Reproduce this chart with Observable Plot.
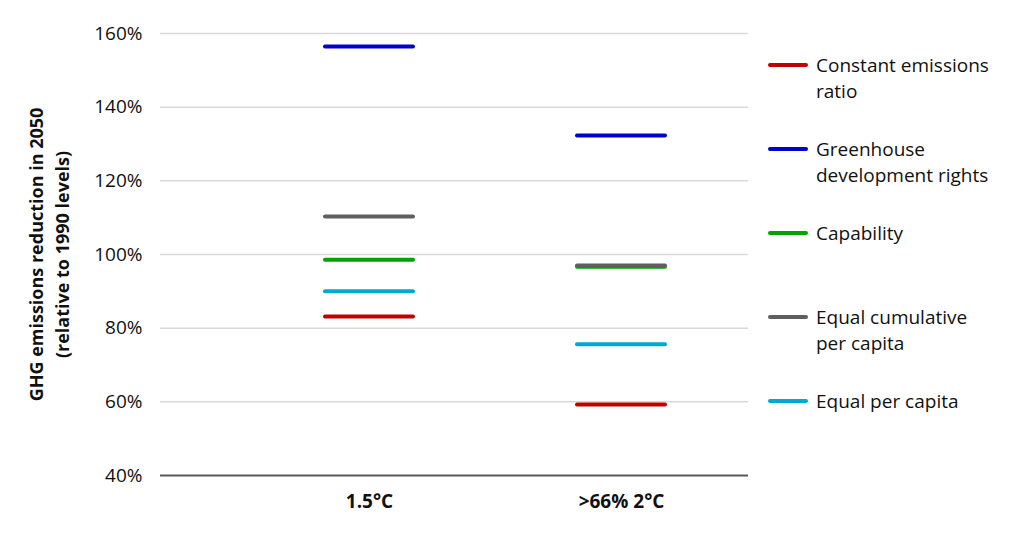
<!DOCTYPE html>
<html>
<head>
<meta charset="utf-8">
<script src="https://cdn.jsdelivr.net/npm/d3@7"></script>
<script src="https://cdn.jsdelivr.net/npm/@observablehq/plot@0.6"></script>
<style>
  html, body { margin: 0; padding: 0; background: #fff; }
  body { width: 1024px; height: 537px; position: relative; overflow: hidden; font-family: "Open Sans", sans-serif; }
  #chart { position: absolute; left: 0; top: 0; }
  #legend { position: absolute; left: 768px; top: 0; }
  .item { position: absolute; left: 0; width: 256px; }
  .swatch { position: absolute; left: 0; width: 40px; height: 4px; border-radius: 2px; }
  .label { position: absolute; left: 48px; font-size: 19px; line-height: 26px; color: #111; white-space: nowrap; }
</style>
</head>
<body>
<div id="chart"></div>
<div id="legend"></div>
<script>
const scenarios = ["1.5°C", ">66% 2°C"];
const approaches = ["Constant emissions ratio", "Greenhouse development rights", "Capability", "Equal cumulative per capita", "Equal per capita"];
const legendLabels = [["Constant emissions", "ratio"], ["Greenhouse", "development rights"], ["Capability"], ["Equal cumulative", "per capita"], ["Equal per capita"]];
const colors = ["#c00000", "#0000cc", "#00a300", "#5f5f5f", "#00a9d4"];
const values15 = [83.2, 156.5, 98.6, 110.3, 90.0];
const values2 = [59.3, 132.3, 96.7, 97.0, 75.6];
const yTicks = [40, 60, 80, 100, 120, 140, 160];

const data = [];
approaches.forEach((a, i) => {
  data.push({scenario: scenarios[0], approach: a, value: values15[i]});
  data.push({scenario: scenarios[1], approach: a, value: values2[i]});
});

const chart = Plot.plot({
  width: 1024,
  height: 537,
  marginLeft: 160,
  marginRight: 276,
  marginTop: 33,
  marginBottom: 62,
  style: {fontFamily: "Open Sans, sans-serif", fontSize: "19px", color: "#111", background: "#fff"},
  x: {domain: scenarios, range: [243, 747], padding: 0},
  y: {domain: [40, 160]},
  color: {domain: approaches, range: colors},
  marks: [
    Plot.ruleY(yTicks.slice(1), {stroke: "#d9d9d9", strokeWidth: 1.5}),
    Plot.ruleY([40], {stroke: "#595959", strokeWidth: 2}),
    Plot.axisY({ticks: yTicks, tickFormat: d => d + "%", tickSize: 0, tickPadding: 18, label: null, fontSize: 19}),
    Plot.axisX({tickSize: 0, tickPadding: 19, label: null, fontWeight: "bold", fontSize: 19}),
    Plot.tickY(data, {x: "scenario", y: "value", stroke: "approach", strokeWidth: 4, strokeLinecap: "round", inset: 82}),
    Plot.text(["GHG emissions reduction in 2050\n(relative to 1990 levels)"], {
      frameAnchor: "left", textAnchor: "middle", rotate: -90, dx: -113, text: d => d, fontWeight: "bold", fontSize: 18, lineHeight: 1.45, lineAnchor: "middle", fill: "#111"
    })
  ]
});
document.getElementById("chart").appendChild(chart);

const legend = document.getElementById("legend");
const legendTops = [65, 149, 233, 317, 401];
legendLabels.forEach((lines, i) => {
  const item = document.createElement("div");
  item.className = "item";
  item.style.top = (legendTops[i] - 13) + "px";
  const sw = document.createElement("div");
  sw.className = "swatch";
  sw.style.background = colors[i];
  sw.style.top = "11px";
  const lab = document.createElement("div");
  lab.className = "label";
  lab.innerHTML = lines.join("<br>");
  item.appendChild(sw);
  item.appendChild(lab);
  legend.appendChild(item);
});
</script>
</body>
</html>
